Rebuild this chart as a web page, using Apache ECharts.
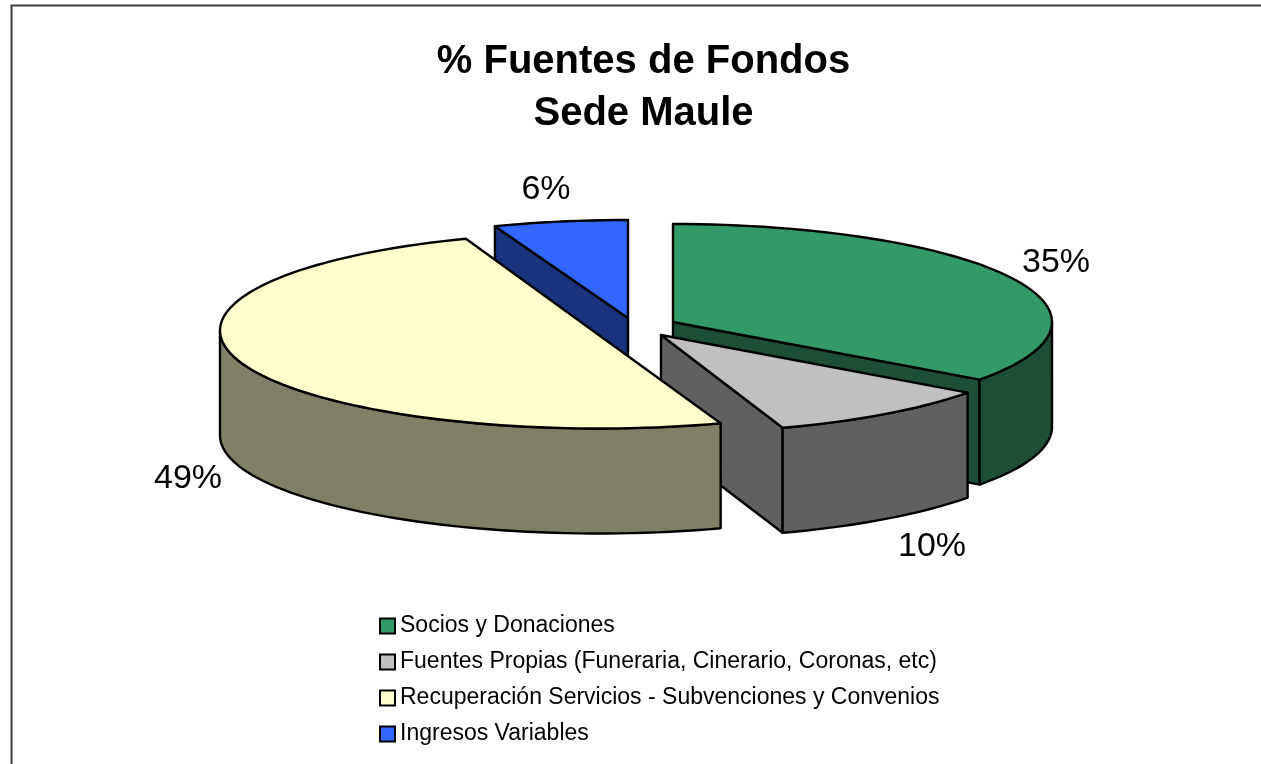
<!DOCTYPE html>
<html lang="es">
<head>
    <meta charset="utf-8"/>
    <title>% Fuentes de Fondos</title>
    <style>
        html, body { margin: 0; padding: 0; background: #fff; }
        #main { width: 1261px; height: 764px; }
    </style>
    <script src="https://cdn.jsdelivr.net/npm/echarts@6/dist/echarts.min.js"></script>
</head>
<body>
<div id="main"></div>
<script>
    var categories = ['Socios y Donaciones', 'Fuentes Propias (Funeraria, Cinerario, Coronas, etc)', 'Recuperación Servicios - Subvenciones y Convenios', 'Ingresos Variables'];
    var values = [35, 9.8, 49.49, 5.71];
    var labels = ['35%', '10%', '49%', '6%'];

    var topColors = ['#339966', '#c0c0c0', '#ffffcc', '#3366ff'];
    var wallColors = ['#1c4f36', '#606060', '#808066', '#19337f'];

    // pie geometry in pixels: each slice has its own exploded centre
    var rx = 379, ry = 98, depth = 105;
    var centres = [[673, 322], [661, 335], [599, 330.5], [628, 318]];
    var labelPos = [[1056, 263], [932, 547], [188, 479], [546, 190]];
    var drawOrder = [3, 0, 1, 2];

    var total = values.reduce(function (a, b) { return a + b; }, 0);
    var starts = [];
    values.reduce(function (sum, v, i) { starts[i] = sum; return sum + v; }, 0);

    function pt(c, deg, dy) {
        var r = deg * Math.PI / 180;
        return [c[0] + rx * Math.sin(r), c[1] - ry * Math.cos(r) + (dy || 0)];
    }

    function arc(c, from, to, dy) {
        var pts = [];
        var n = Math.max(2, Math.ceil(Math.abs(to - from) / 2));
        for (var i = 0; i <= n; i++) {
            pts.push(pt(c, from + (to - from) * i / n, dy));
        }
        return pts;
    }

    function poly(points, fill) {
        return {
            type: 'polygon',
            shape: { points: points },
            style: { fill: fill, stroke: '#000', lineWidth: 2.4, lineJoin: 'round' }
        };
    }

    function cutFace(c, deg, fill) {
        var rim = pt(c, deg);
        return poly([c, rim, [rim[0], rim[1] + depth], [c[0], c[1] + depth]], fill);
    }

    function renderSlice(params, api) {
        var i = api.value(0);
        var a0 = api.value(1) / total * 360;
        var a1 = a0 + api.value(2) / total * 360;
        var c = centres[i];
        var kids = [];

        // cut faces, only the ones turned towards the viewer
        if (a1 < 180) kids.push(cutFace(c, a1, wallColors[i]));
        if (a0 > 180) kids.push(cutFace(c, a0, wallColors[i]));

        // outer wall, only the front half of the rim shows
        var w0 = Math.max(a0, 90), w1 = Math.min(a1, 270);
        if (w1 > w0) {
            kids.push(poly(arc(c, w0, w1).concat(arc(c, w1, w0, depth)), wallColors[i]));
        }

        // a slice of nearly half the pie reads as a straight chord in the picture
        var top = a1 - a0 > 175 ? arc(c, a0, a1) : [c].concat(arc(c, a0, a1));
        kids.push(poly(top, topColors[i]));

        kids.push({
            type: 'text',
            x: labelPos[i][0],
            y: labelPos[i][1],
            style: { text: labels[i], fill: '#000', font: '34px "Liberation Sans", Arial, sans-serif', align: 'center', verticalAlign: 'middle' }
        });
        return { type: 'group', children: kids };
    }

    var series = drawOrder.map(function (i) {
        return {
            name: categories[i],
            type: 'custom',
            coordinateSystem: 'none',
            silent: true,
            animation: false,
            clip: false,
            itemStyle: { color: topColors[i] },
            renderItem: renderSlice,
            encode: { tooltip: 2 },
            data: [[i, starts[i], values[i]]]
        };
    });

    var chart = echarts.init(document.getElementById('main'));
    chart.setOption({
        animation: false,
        title: {
            text: '% Fuentes de Fondos\nSede Maule',
            left: 638.5,
            top: 31,
            textAlign: 'center',
            textStyle: { fontFamily: '"Liberation Sans", Arial, sans-serif', fontWeight: 'bold', fontSize: 40, lineHeight: 52, color: '#000' }
        },
        legend: {
            orient: 'vertical',
            left: 374,
            top: 605,
            height: 155,
            itemWidth: 15,
            itemHeight: 15,
            itemGap: 4,
            selectedMode: false,
            icon: 'rect',
            data: categories,
            itemStyle: { borderColor: '#000', borderWidth: 2 },
            textStyle: { fontFamily: '"Liberation Sans", Arial, sans-serif', fontSize: 23, lineHeight: 25, color: '#000', padding: [0, 0, 7, 0] }
        },
        graphic: [{
            type: 'polyline',
            shape: { points: [[11.5, 764], [11.5, 5.5], [1261, 5.5]] },
            style: { fill: 'none', stroke: '#404040', lineWidth: 2 },
            silent: true
        }],
        series: series
    });

    window.onresize = function () {
        chart.resize();
    };
</script>
</body>
</html>
